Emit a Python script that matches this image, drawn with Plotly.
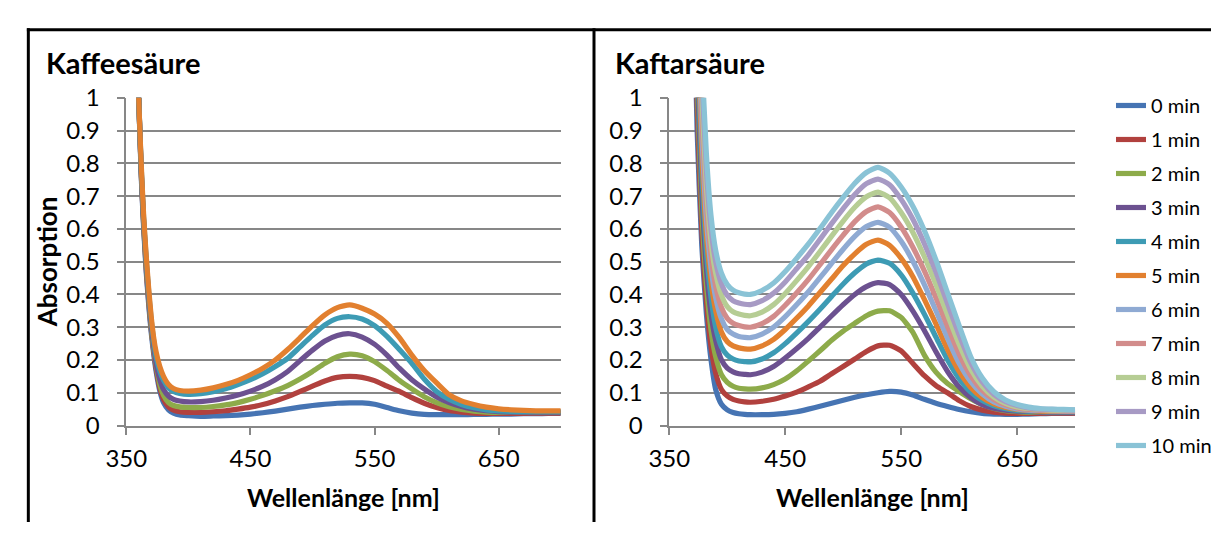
import plotly.graph_objects as go

W, H = 1217, 535

# ---------------- data ----------------
series_names = ["0 min", "1 min", "2 min", "3 min", "4 min", "5 min",
                "6 min", "7 min", "8 min", "9 min", "10 min"]
colors = ["#4674B3", "#B1413E", "#8DAB4A", "#6C5190", "#3D9BB4", "#E2802F",
          "#8FAAD3", "#D28C8B", "#B6CD94", "#A79AC4", "#8AC3D6"]

# Kaffeesäure (left panel)
kaffee_wl = [350, 355, 360, 362, 364, 366, 368, 370, 372, 374, 377, 380, 384, 388, 393, 400,
             410, 420, 430, 440, 450, 460, 470, 480, 490, 500, 510, 520, 530, 540, 550,
             560, 570, 580, 590, 600, 610, 620, 630, 640, 650, 660, 670, 680, 690, 700]
kaffee_0 = [2.6, 1.6, 1.0, 0.76, 0.6, 0.47, 0.37, 0.285, 0.22, 0.165, 0.105, 0.07, 0.048, 0.038, 0.032, 0.03,
            0.028, 0.029, 0.03, 0.032, 0.035, 0.039, 0.044, 0.05, 0.056, 0.061, 0.065, 0.068, 0.069, 0.069, 0.065,
            0.055, 0.045, 0.038, 0.034, 0.033, 0.033, 0.033, 0.034, 0.034, 0.035, 0.035, 0.036, 0.036, 0.037, 0.037]
kaffee_1 = [2.6, 1.6, 1.0, 0.77, 0.61, 0.48, 0.38, 0.295, 0.23, 0.175, 0.115, 0.08, 0.057, 0.047, 0.042, 0.04,
            0.04, 0.042, 0.045, 0.05, 0.056, 0.064, 0.075, 0.088, 0.104, 0.12, 0.136, 0.147, 0.15, 0.147, 0.137,
            0.12, 0.104, 0.085, 0.068, 0.055, 0.046, 0.041, 0.038, 0.037, 0.037, 0.037, 0.037, 0.038, 0.038, 0.038]
kaffee_2 = [2.65, 1.62, 1.0, 0.775, 0.615, 0.49, 0.39, 0.3, 0.235, 0.185, 0.125, 0.092, 0.07, 0.061, 0.057, 0.055,
            0.055, 0.058, 0.063, 0.07, 0.08, 0.092, 0.106, 0.122, 0.142, 0.165, 0.19, 0.21, 0.218, 0.213, 0.195,
            0.168, 0.138, 0.112, 0.088, 0.07, 0.057, 0.049, 0.044, 0.041, 0.04, 0.04, 0.04, 0.04, 0.04, 0.04]
kaffee_3 = [2.7, 1.63, 1.0, 0.78, 0.62, 0.5, 0.4, 0.31, 0.245, 0.19, 0.14, 0.11, 0.09, 0.08, 0.075, 0.072,
            0.073, 0.077, 0.084, 0.093, 0.105, 0.12, 0.14, 0.165, 0.198, 0.23, 0.258, 0.275, 0.28, 0.27, 0.248,
            0.215, 0.175, 0.14, 0.112, 0.087, 0.07, 0.058, 0.05, 0.045, 0.042, 0.041, 0.041, 0.041, 0.041, 0.041]
kaffee_4 = [2.75, 1.65, 1.0, 0.79, 0.63, 0.51, 0.41, 0.325, 0.26, 0.21, 0.165, 0.138, 0.115, 0.104, 0.098, 0.095,
            0.097, 0.103, 0.112, 0.125, 0.14, 0.158, 0.18, 0.205, 0.24, 0.275, 0.307, 0.327, 0.332, 0.325, 0.305,
            0.272, 0.232, 0.19, 0.142, 0.104, 0.08, 0.064, 0.054, 0.048, 0.045, 0.043, 0.042, 0.042, 0.042, 0.042]
kaffee_5 = [2.8, 1.68, 1.0, 0.8, 0.64, 0.52, 0.42, 0.335, 0.27, 0.225, 0.18, 0.15, 0.125, 0.113, 0.107, 0.105,
            0.108, 0.115, 0.125, 0.138, 0.155, 0.175, 0.2, 0.232, 0.268, 0.305, 0.338, 0.36, 0.368, 0.358, 0.34,
            0.312, 0.268, 0.215, 0.168, 0.13, 0.094, 0.075, 0.064, 0.056, 0.051, 0.048, 0.046, 0.045, 0.045, 0.045]
kaffee_series = [kaffee_0, kaffee_1, kaffee_2, kaffee_3, kaffee_4, kaffee_5]

# Kaftarsäure (right panel)
kaftar_wl = [365, 370, 374, 378, 382, 386, 390, 395, 400, 405, 410, 415, 420,
             430, 440, 450, 460, 470, 480, 490, 500, 510, 520, 530, 540, 550, 560,
             570, 580, 590, 600, 610, 620, 630, 640, 650, 660, 670, 680, 690, 700]
kaftar_0 = [2.2, 1.5, 0.9, 0.55, 0.34, 0.2, 0.11, 0.065, 0.048, 0.04, 0.036, 0.034, 0.033,
            0.033, 0.034, 0.037, 0.042, 0.05, 0.059, 0.068, 0.077, 0.086, 0.094, 0.1, 0.104, 0.102, 0.093,
            0.08, 0.068, 0.058, 0.049, 0.042, 0.037, 0.035, 0.034, 0.034, 0.035, 0.036, 0.037, 0.037, 0.038]
kaftar_1 = [2.3, 1.6, 0.98, 0.6, 0.38, 0.24, 0.16, 0.11, 0.09, 0.08, 0.075, 0.072, 0.071,
            0.074, 0.08, 0.09, 0.102, 0.118, 0.135, 0.158, 0.18, 0.203, 0.226, 0.243, 0.245, 0.228, 0.19,
            0.152, 0.122, 0.1, 0.076, 0.058, 0.047, 0.041, 0.038, 0.037, 0.037, 0.037, 0.038, 0.038, 0.038]
kaftar_2 = [2.4, 1.7, 1.05, 0.66, 0.43, 0.29, 0.21, 0.155, 0.132, 0.12, 0.114, 0.112, 0.111,
            0.115, 0.125, 0.142, 0.167, 0.197, 0.228, 0.26, 0.288, 0.312, 0.335, 0.349, 0.35, 0.33, 0.285,
            0.215, 0.163, 0.128, 0.104, 0.082, 0.064, 0.052, 0.045, 0.042, 0.04, 0.04, 0.04, 0.04, 0.04]
kaftar_3 = [2.5, 1.8, 1.1, 0.72, 0.48, 0.34, 0.26, 0.2, 0.175, 0.164, 0.158, 0.156, 0.155,
            0.163, 0.18, 0.206, 0.235, 0.266, 0.3, 0.335, 0.369, 0.4, 0.424, 0.436, 0.43, 0.4, 0.35,
            0.29, 0.225, 0.165, 0.118, 0.085, 0.064, 0.053, 0.047, 0.044, 0.042, 0.041, 0.041, 0.041, 0.041]
kaftar_4 = [2.6, 1.9, 1.18, 0.78, 0.53, 0.39, 0.3, 0.24, 0.215, 0.203, 0.197, 0.195, 0.194,
            0.203, 0.222, 0.25, 0.283, 0.318, 0.355, 0.394, 0.432, 0.466, 0.493, 0.505, 0.495, 0.46, 0.405,
            0.34, 0.27, 0.2, 0.143, 0.102, 0.076, 0.06, 0.051, 0.046, 0.044, 0.043, 0.042, 0.042, 0.042]
kaftar_5 = [2.7, 2.0, 1.25, 0.84, 0.58, 0.44, 0.35, 0.285, 0.256, 0.243, 0.237, 0.234, 0.233,
            0.243, 0.263, 0.293, 0.328, 0.365, 0.406, 0.447, 0.488, 0.524, 0.553, 0.566, 0.55, 0.51, 0.455,
            0.385, 0.31, 0.232, 0.165, 0.116, 0.085, 0.066, 0.055, 0.049, 0.046, 0.044, 0.043, 0.043, 0.043]
kaftar_6 = [2.8, 2.1, 1.32, 0.9, 0.63, 0.48, 0.39, 0.325, 0.293, 0.279, 0.272, 0.269, 0.268,
            0.279, 0.3, 0.332, 0.369, 0.408, 0.451, 0.495, 0.538, 0.577, 0.607, 0.62, 0.605, 0.562, 0.502,
            0.43, 0.35, 0.266, 0.19, 0.134, 0.096, 0.072, 0.059, 0.051, 0.047, 0.046, 0.045, 0.044, 0.044]
kaftar_7 = [2.9, 2.2, 1.4, 0.96, 0.68, 0.52, 0.425, 0.36, 0.327, 0.312, 0.305, 0.301, 0.3,
            0.311, 0.333, 0.367, 0.405, 0.446, 0.491, 0.537, 0.581, 0.622, 0.653, 0.667, 0.65, 0.606, 0.545,
            0.472, 0.39, 0.302, 0.218, 0.152, 0.107, 0.079, 0.063, 0.054, 0.049, 0.047, 0.046, 0.045, 0.045]
kaftar_8 = [3.0, 2.3, 1.48, 1.02, 0.73, 0.56, 0.465, 0.398, 0.363, 0.347, 0.34, 0.336, 0.335,
            0.346, 0.369, 0.403, 0.443, 0.485, 0.531, 0.578, 0.624, 0.666, 0.698, 0.712, 0.695, 0.65, 0.59,
            0.515, 0.43, 0.338, 0.248, 0.172, 0.12, 0.087, 0.068, 0.057, 0.052, 0.049, 0.047, 0.046, 0.046]
kaftar_9 = [3.1, 2.4, 1.55, 1.08, 0.78, 0.6, 0.5, 0.432, 0.397, 0.381, 0.374, 0.37, 0.369,
            0.381, 0.404, 0.438, 0.479, 0.521, 0.568, 0.616, 0.662, 0.705, 0.738, 0.752, 0.735, 0.69, 0.63,
            0.555, 0.468, 0.372, 0.277, 0.192, 0.133, 0.095, 0.073, 0.061, 0.054, 0.05, 0.049, 0.048, 0.047]
kaftar_10 = [3.2, 2.5, 1.62, 1.14, 0.83, 0.64, 0.535, 0.465, 0.43, 0.413, 0.405, 0.401, 0.4,
             0.412, 0.435, 0.47, 0.511, 0.554, 0.601, 0.65, 0.696, 0.739, 0.772, 0.788, 0.77, 0.728, 0.67,
             0.595, 0.505, 0.405, 0.305, 0.21, 0.145, 0.103, 0.078, 0.064, 0.056, 0.052, 0.05, 0.049, 0.048]
kaftar_series = [kaftar_0, kaftar_1, kaftar_2, kaftar_3, kaftar_4, kaftar_5,
                 kaftar_6, kaftar_7, kaftar_8, kaftar_9, kaftar_10]

y_ticks = [0, 0.1, 0.2, 0.3, 0.4, 0.5, 0.6, 0.7, 0.8, 0.9, 1]
y_ticktext = ["0", "0.1", "0.2", "0.3", "0.4", "0.5", "0.6", "0.7", "0.8", "0.9", "1"]
x_ticks = [350, 450, 550, 650]

title_left = "Kaffeesäure"
title_right = "Kaftarsäure"
x_title = "Wellenlänge [nm]"
y_title = "Absorption"

# ---------------- figure ----------------
FONT = "Lato"
LW = 5.2


def px(x):
    return x / W


def py(y):
    return 1 - y / H


fig = go.Figure()

for i, vals in enumerate(kaffee_series):
    fig.add_trace(go.Scatter(x=kaffee_wl, y=vals, mode="lines", name=series_names[i],
                             line=dict(color=colors[i], width=LW, shape="spline", smoothing=0.6),
                             xaxis="x", yaxis="y", showlegend=False, hoverinfo="skip"))

for i, vals in enumerate(kaftar_series):
    fig.add_trace(go.Scatter(x=kaftar_wl, y=vals, mode="lines", name=series_names[i],
                             line=dict(color=colors[i], width=LW, shape="spline", smoothing=0.6),
                             xaxis="x2", yaxis="y2", showlegend=True, legendgroup=series_names[i]))

grid = "#878787"
axis_common = dict(showline=True, linecolor=grid, linewidth=1.5, ticks="outside", ticklen=8,
                   tickwidth=1.5, tickcolor=grid, zeroline=False,
                   tickfont=dict(family=FONT, size=24, color="black"))

y_domain = [py(433), py(86.5)]

fig.update_layout(
    width=W, height=H, margin=dict(l=0, r=0, t=0, b=0),
    paper_bgcolor="white", plot_bgcolor="white",
    font=dict(family=FONT, color="black"),
    xaxis=dict(domain=[px(107.7), px(552)], range=[350, 700], tickvals=x_ticks,
               showgrid=False, anchor="y", ticklabelstandoff=3, **axis_common),
    yaxis=dict(domain=y_domain, range=[0, 1], tickvals=y_ticks, ticktext=y_ticktext,
               showgrid=True, gridcolor=grid, gridwidth=1.5, anchor="x",
               ticklabelstandoff=12, **axis_common),
    xaxis2=dict(domain=[px(663), px(1078)], range=[350, 700], tickvals=x_ticks,
                showgrid=False, anchor="y2", ticklabelstandoff=3, **axis_common),
    yaxis2=dict(domain=y_domain, range=[0, 1], tickvals=y_ticks, ticktext=y_ticktext,
                showgrid=True, gridcolor=grid, gridwidth=1.5, anchor="x2",
                ticklabelstandoff=12, **axis_common),
    legend=dict(x=px(1115), y=py(74), xanchor="left", yanchor="top",
                font=dict(family=FONT, size=20, color="black"),
                tracegroupgap=5, bgcolor="rgba(0,0,0,0)", borderwidth=0,
                itemclick=False, itemdoubleclick=False),
    showlegend=True,
)

annotations = [
    dict(text="<b>" + title_left + "</b>", x=px(24), y=py(49), xanchor="left", yanchor="middle",
         font=dict(family=FONT, size=29, color="black")),
    dict(text="<b>" + title_right + "</b>", x=px(605), y=py(49), xanchor="left", yanchor="middle",
         font=dict(family=FONT, size=29, color="black")),
    dict(text="<b>" + x_title + "</b>", x=px(330), y=py(509), xanchor="center", yanchor="middle",
         font=dict(family=FONT, size=25, color="black")),
    dict(text="<b>" + x_title + "</b>", x=px(871), y=py(509), xanchor="center", yanchor="middle",
         font=dict(family=FONT, size=25, color="black")),
    dict(text="<b>" + y_title + "</b>", x=px(27), y=py(260), xanchor="center", yanchor="middle",
         textangle=-90, font=dict(family=FONT, size=26, color="black")),
]
for a in annotations:
    a.update(xref="paper", yref="paper", showarrow=False)
fig.update_layout(annotations=annotations)

# outer frame and divider
frame = [
    dict(x0=px(6), x1=1, y0=py(14.5), y1=py(14.5)),
    dict(x0=px(7.5), x1=px(7.5), y0=py(13), y1=0),
    dict(x0=px(586), x1=px(586), y0=py(13), y1=0),
]
for s in frame:
    s.update(type="line", xref="paper", yref="paper", line=dict(color="black", width=3))
fig.update_layout(shapes=frame)

fig.write_html("out.html",
               post_script="document.body.style.margin='0';document.body.style.overflow='hidden';")
